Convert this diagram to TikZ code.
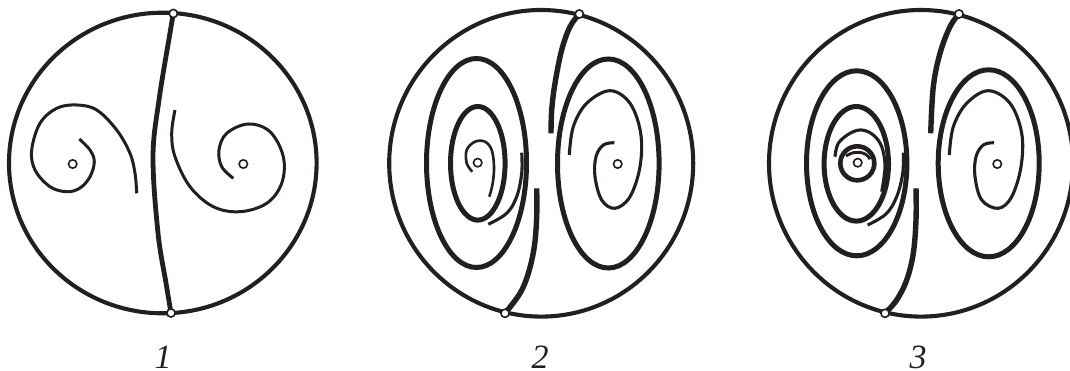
\documentclass[tikz,border=0pt]{standalone}
\usepackage{fontspec}
\setmainfont{Liberation Serif}
\definecolor{ink}{RGB}{35,31,32}
\begin{document}
\begin{tikzpicture}[x=1pt,y=-1pt,
  bound/.style={draw=ink,line width=4.1pt},
  sep/.style={draw=ink,line width=5pt},
  orbit/.style={draw=ink,line width=5pt},
  thin/.style={draw=ink,line width=3pt},
  medium/.style={draw=ink,line width=3.1pt},
  dot/.style={draw=ink,fill=white,line width=1.6pt},
  lbl/.style={font=\fontsize{34}{34}\selectfont\itshape,text=ink,inner sep=0pt,text height=22pt,text depth=0pt}]
\useasboundingbox (0,0) rectangle (1070,371);

% ---------------- Panel 1 ----------------
\draw[bound] (162.8,163) ellipse (153.8 and 150.3);
\coordinate (A1) at (173.3,13.5);
\coordinate (B1) at (171,313);
\draw[sep,line width=4.8pt] plot[smooth,tension=0.6] coordinates {(A1) (170,33) (159,100) (153,157) (158,233) (166,283) (B1)};
\draw[thin] plot[smooth,tension=0.6] coordinates {(79.3,139) (90,150) (94.3,161.7) (90,176.7) (80,188) (66.7,191.7) (50,186.7) (35,170) (31.7,150) (40,123.3) (56.7,108.3) (76.7,105) (96.7,110) (116.7,130) (130,153.3) (135,173.3) (136.7,193.3)};
\draw[thin] plot[smooth,tension=0.6] coordinates {(233.3,178.3) (221.7,166.7) (219,150) (226.7,133.3) (248.3,124) (270,131.7) (283.3,156.7) (281.7,183.3) (266.7,203.3) (240,211.7) (213.3,206.7) (190,186.7) (175,156.7) (171.7,133.3) (175,110)};
\coordinate (F1) at (72.7,164);
\coordinate (F2) at (243.3,164);
\draw[dot] (F1) circle (4.2);
\draw[dot] (F2) circle (4.2);
\draw[dot] (A1) circle (4.1);
\draw[dot] (B1) circle (4.1);
\node[lbl] (L1) at (163,357) {1};

% ---------------- Panel 2 ----------------
\draw[bound] (541.2,163.3) ellipse (152 and 153.3);
\coordinate (A2) at (579.3,14);
\coordinate (B2) at (505,313.3);
\draw[sep,line width=5.4pt] plot[smooth,tension=0.6] coordinates {(A2) (570,26.7) (561.7,50) (555,83.3) (551.7,110) (551,133.3)};
\draw[sep,line width=5.4pt] plot[smooth,tension=0.6] coordinates {(536.7,188.3) (536.7,216.7) (534.3,246.7) (528.3,273.3) (520,293.3) (B2)};
\draw[orbit] (476.5,163) ellipse (50 and 104.5);
\draw[orbit] (477.8,163.3) ellipse (27.3 and 56.8);
\draw[thin,line width=2.6pt] plot[smooth,tension=0.6] coordinates {(472.3,171.7) (466.7,163.3) (466.7,150) (475,141.7) (485,141.7) (491.7,150) (494,166.7) (492.7,183.3) (489.3,196.7)};
\draw[medium] plot[smooth,tension=0.6] coordinates {(521.7,152.7) (521.7,173.3) (516.7,196.7) (506.7,213.3) (488.3,224.3)};
\draw[orbit] (608.3,163.5) ellipse (50.8 and 104.5);
\draw[medium] plot[smooth,tension=0.6] coordinates {(569.3,155) (573.3,126.7) (586.7,103.3) (610,90.7) (630,103.3) (640.7,133.3) (640,166.7) (630,196.7) (615,208.3) (601.7,200) (595,176.7) (596,156.7) (603.3,145) (614.3,142.7)};
\coordinate (F3) at (477.7,162.7);
\coordinate (F4) at (617.7,164);
\draw[dot] (F3) circle (4.2);
\draw[dot] (F4) circle (4.2);
\draw[dot] (A2) circle (4.1);
\draw[dot] (B2) circle (4.1);
\node[lbl] (L2) at (540,357) {2};

% ---------------- Panel 3 ----------------
\draw[bound] (921,163.3) ellipse (152 and 153.3);
\coordinate (A3) at (959,14);
\coordinate (B3) at (885,313.3);
\draw[sep,line width=5.4pt] plot[smooth,tension=0.6] coordinates {(A3) (950,26.7) (940,53.3) (933.3,86.7) (930.7,133.3)};
\draw[sep,line width=5.4pt] plot[smooth,tension=0.6] coordinates {(916,188.3) (916,220) (913.3,253.3) (906.7,280) (896.7,300) (B3)};
\draw[orbit] (856.7,163.3) ellipse (50.2 and 92.5);
\draw[orbit] (856.3,163.8) ellipse (32.2 and 57.3);
\draw[medium] plot[smooth,tension=0.6] coordinates {(835,156.7) (838.3,143.3) (850,133.3) (861.7,130) (873.3,135) (881.7,146.7) (885,166.7) (881.7,191.7)};
\draw[orbit,line width=4.6pt] (857.3,163.3) circle (17);
\draw[medium,line width=2.9pt] plot[smooth,tension=0.7] coordinates {(846,156) (853.3,152.7) (860,152.3) (866.7,155) (870,159.3)};
\draw[medium] plot[smooth,tension=0.6] coordinates {(903.3,152.7) (902.7,173.3) (896.7,196.7) (886,214) (867.7,225)};
\draw[orbit] (988.7,163.3) ellipse (50.5 and 93.5);
\draw[medium] plot[smooth,tension=0.6] coordinates {(949.3,155) (953.3,126.7) (966.7,103.3) (988.3,90.7) (1010,103.3) (1021.7,133.3) (1021,166.7) (1011.7,196.7) (998.3,208.3) (981.7,200) (975,176.7) (976,156.7) (983.3,145) (994,142.7)};
\coordinate (F5) at (857.7,162.7);
\coordinate (F6) at (997.3,164);
\draw[dot] (F5) circle (4.2);
\draw[dot] (F6) circle (4.2);
\draw[dot] (A3) circle (4.1);
\draw[dot] (B3) circle (4.1);
\node[lbl] (L3) at (918,357) {3};
\end{tikzpicture}
\end{document}
